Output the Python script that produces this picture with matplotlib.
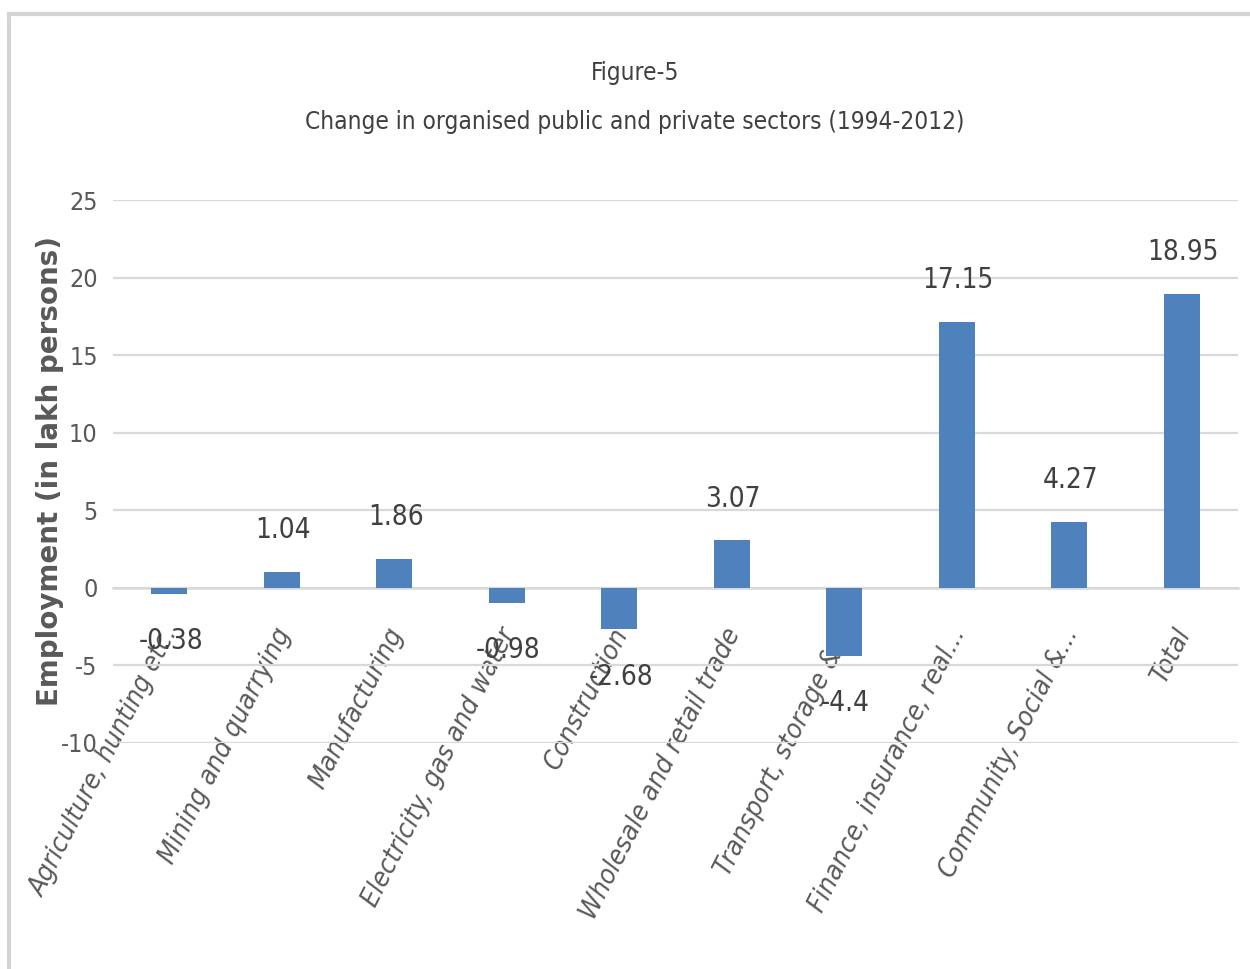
import matplotlib
matplotlib.use("Agg")
import matplotlib.pyplot as plt
from matplotlib.patches import Rectangle
from matplotlib.transforms import ScaledTranslation

# Sector-wise change in organised employment, 1994-2012 (lakh persons)
sectors = [
    "Agriculture, hunting etc.",
    "Mining and quarrying",
    "Manufacturing",
    "Electricity, gas and water",
    "Construction",
    "Wholesale and retail trade",
    "Transport, storage &...",
    "Finance, insurance, real...",
    "Community, Social &...",
    "Total",
]
change = [-0.38, 1.04, 1.86, -0.98, -2.68, 3.07, -4.4, 17.15, 4.27, 18.95]
value_labels = ["-0.38", "1.04", "1.86", "-0.98", "-2.68", "3.07", "-4.4", "17.15", "4.27", "18.95"]
y_ticks = [-10, -5, 0, 5, 10, 15, 20, 25]

title_line1 = "Figure-5"
title_line2 = "Change in organised public and private sectors (1994-2012)"
y_title = "Employment (in lakh persons)"

narrow = dict(family="DejaVu Sans", stretch="condensed")
text_grey = "#595959"
grid_grey = "#d9d9d9"
bar_blue = "#4f81bd"

fig = plt.figure(figsize=(12.5, 9.69), dpi=100)
fig.patch.set_facecolor("white")

# light chart-area frame (top and left edges visible)
fig.patches.append(Rectangle((8.5 / 1250, -0.2), 1.5, 1.2 - 14 / 969,
                             transform=fig.transFigure, fill=False,
                             edgecolor="#d4d4d4", linewidth=3.0, zorder=0))

ax = fig.add_axes([113 / 1250, 1 - 743 / 969, 1125 / 1250, 543 / 969])
x = list(range(len(sectors)))
ax.bar(x, change, width=0.32, color=bar_blue, zorder=3)

ax.set_xlim(-0.5, len(sectors) - 0.5)
ax.set_ylim(-10, 25)
ax.set_yticks(y_ticks)
ax.set_yticklabels([str(v) for v in y_ticks], fontsize=18, color=text_grey, **narrow)
ax.grid(axis="y", color=grid_grey, linewidth=1.6, zorder=0)
ax.set_axisbelow(True)

for side in ("left", "right", "top"):
    ax.spines[side].set_visible(False)
ax.spines["bottom"].set_position(("data", 0))
ax.spines["bottom"].set_color(grid_grey)
ax.spines["bottom"].set_linewidth(1.8)
ax.tick_params(axis="both", length=0)
ax.tick_params(axis="y", pad=11)

ax.set_xticks(x)
ax.set_xticklabels(sectors, fontsize=19.5, style="italic",
                   color=text_grey, rotation=63, ha="right", va="center",
                   rotation_mode="anchor", **narrow)
ax.tick_params(axis="x", pad=0)
shift = ScaledTranslation(2 / 72, -30 / 72, fig.dpi_scale_trans)
for lab in ax.get_xticklabels():
    lab.set_transform(lab.get_transform() + shift)
    lab.set_zorder(5)

for xi, v, s in zip(x, change, value_labels):
    off = 30 if v >= 0 else -34
    ax.annotate(s, (xi, v), xytext=(1, off), textcoords="offset points",
                ha="center", va="center", fontsize=20,
                color="#404040", zorder=6, **narrow)

ax.set_ylabel(y_title, fontsize=20, fontweight="bold", color=text_grey,
              family="DejaVu Sans")
ax.yaxis.set_label_coords(-49 / 1125, 0.5)

fig.text(635 / 1250, 1 - 73 / 969, title_line1, ha="center", va="center",
         fontsize=17.5, color="#404040", **narrow)
fig.text(635 / 1250, 1 - 122 / 969, title_line2, ha="center", va="center",
         fontsize=17.5, color="#404040", **narrow)

fig.savefig("out.png", dpi=100, facecolor="white")
